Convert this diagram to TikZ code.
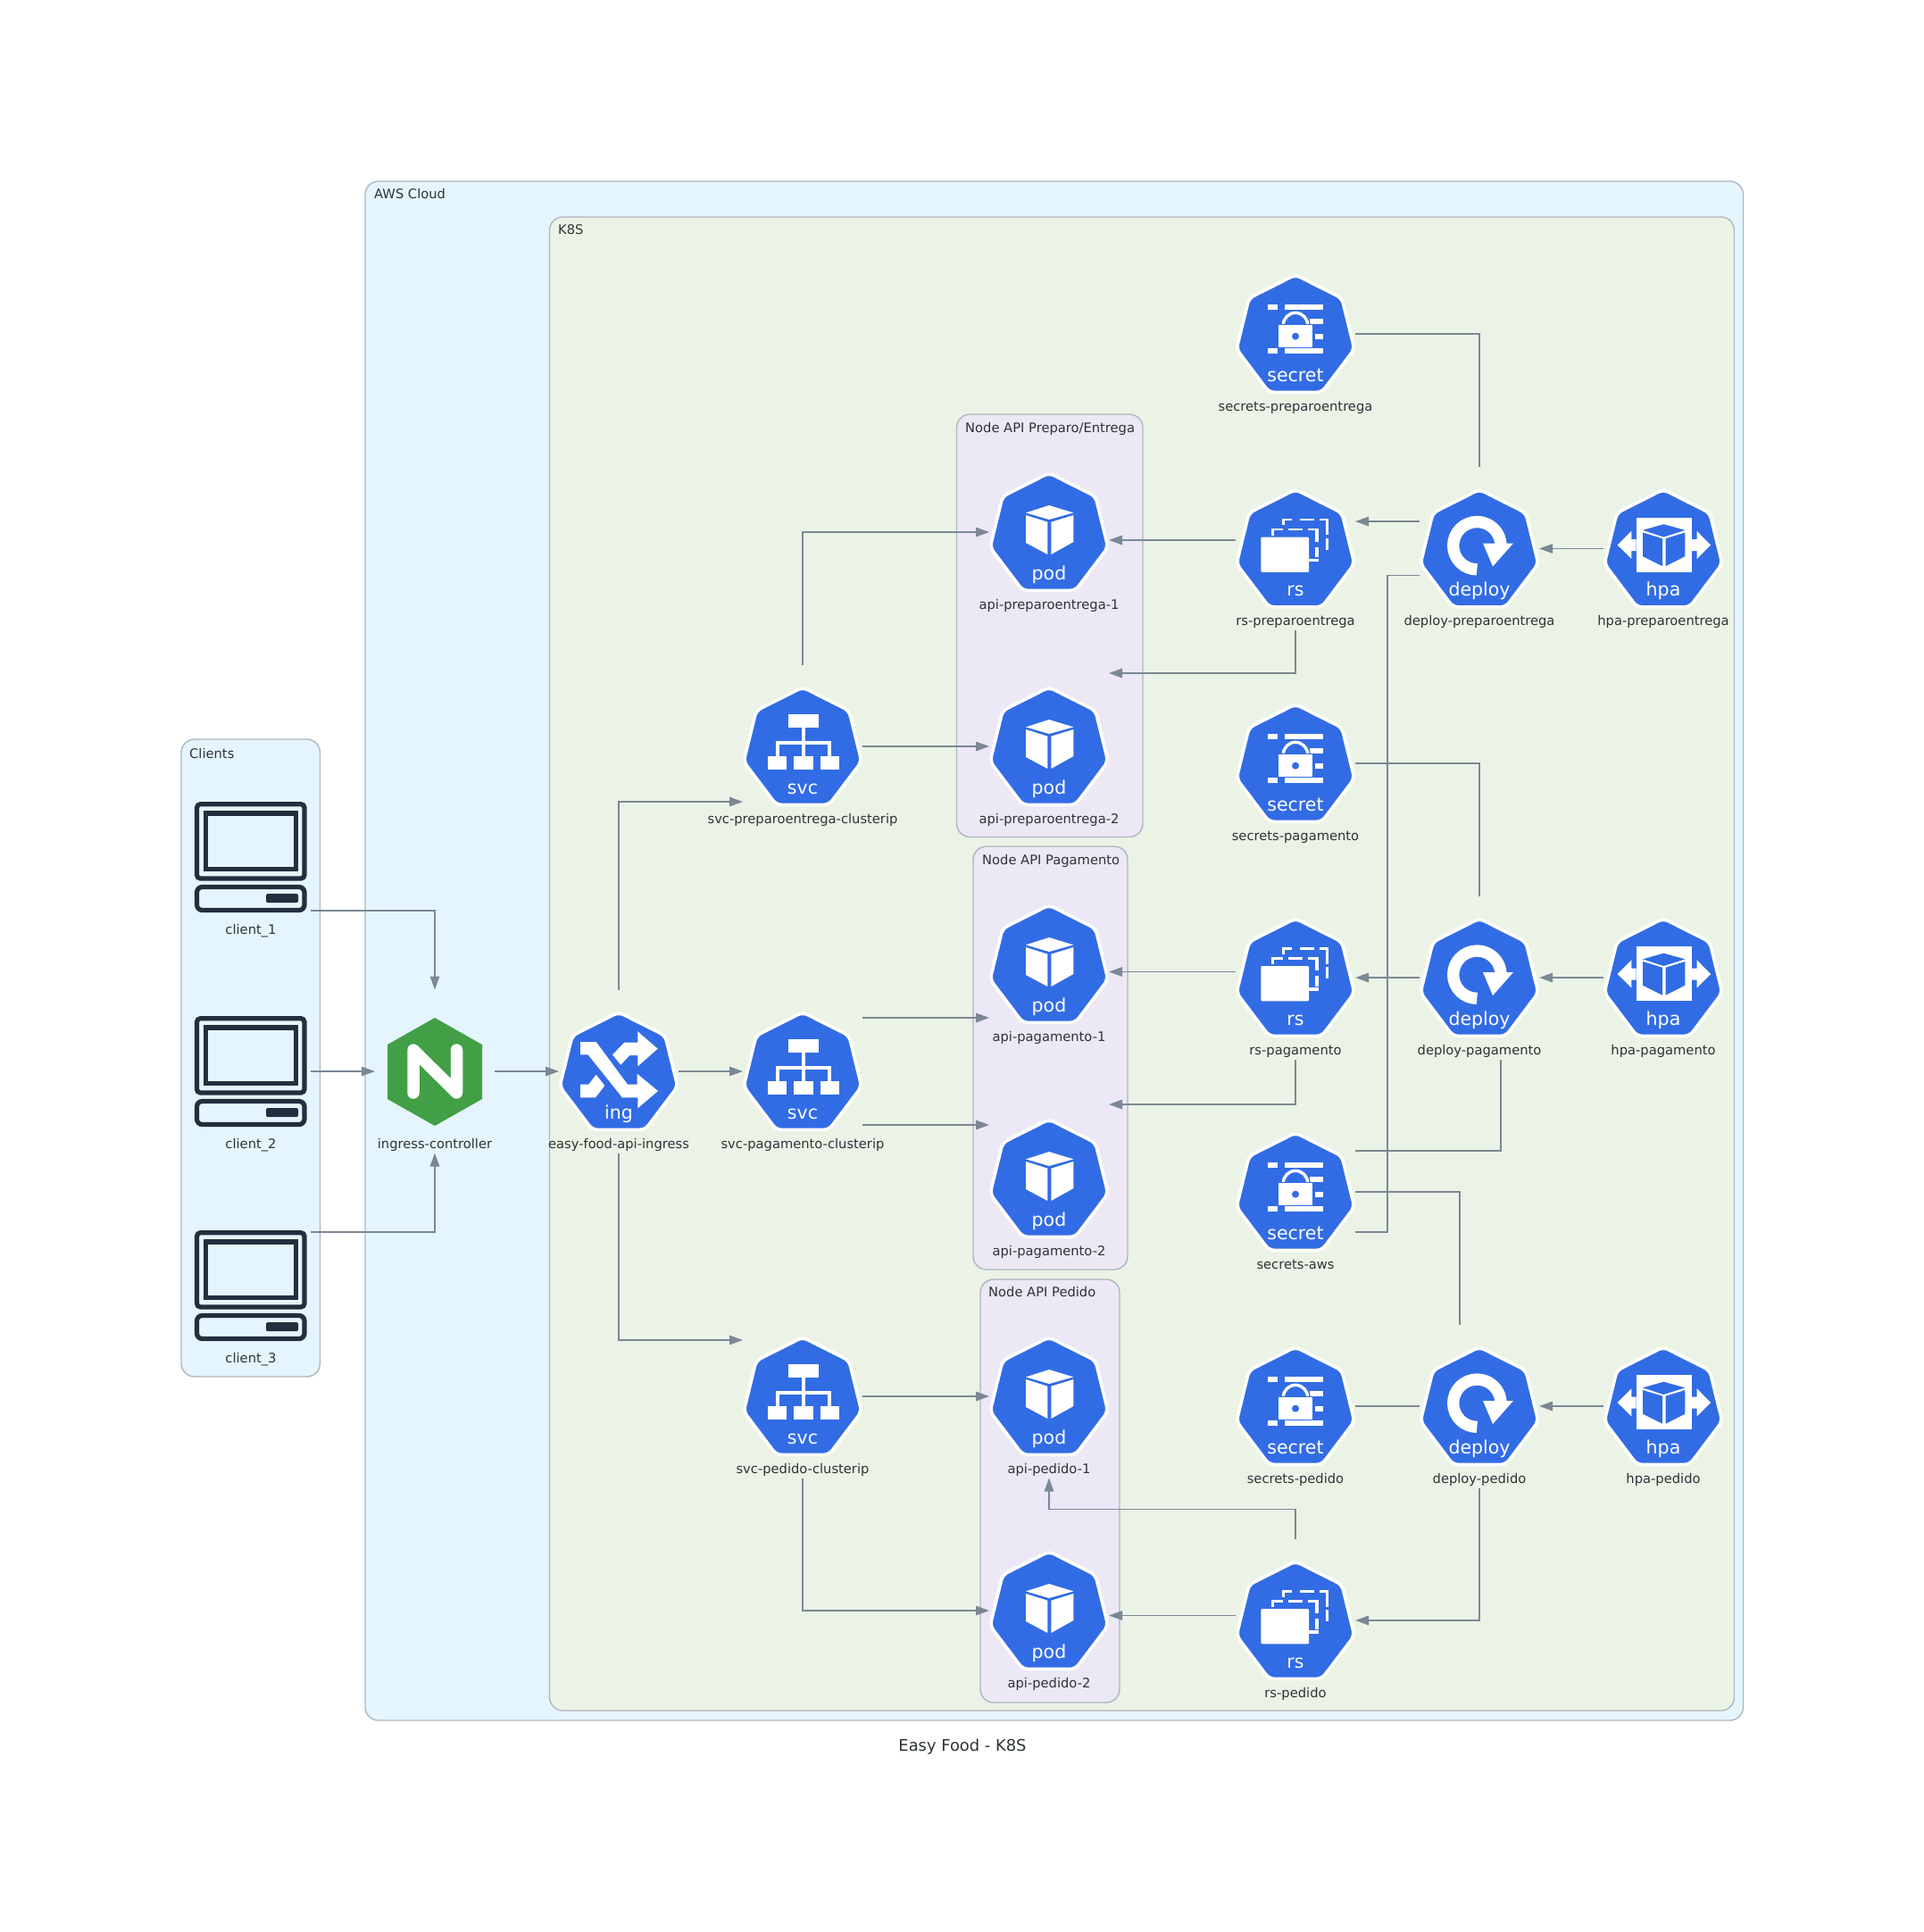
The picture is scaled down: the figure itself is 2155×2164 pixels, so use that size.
\documentclass[tikz,border=0pt]{standalone}
\usepackage{fontspec}
\setmainfont{DejaVu Sans}
\usetikzlibrary{arrows.meta}
\definecolor{k8sblue}{HTML}{326CE5}
\definecolor{ngxgreen}{HTML}{429F46}
\definecolor{edgegrey}{HTML}{7B8894}
\definecolor{bordergrey}{HTML}{AEB6BE}
\definecolor{awsfill}{HTML}{E5F5FD}
\definecolor{k8sfill}{HTML}{EBF3E7}
\definecolor{nodefill}{HTML}{ECE8F6}
\definecolor{textdark}{HTML}{2D3436}
\definecolor{clientdark}{HTML}{232F3E}
\tikzset{
  cluster/.style={draw=bordergrey,line width=1.4pt,rounded corners=15pt},
  clab/.style={font=\fontsize{14.7}{16}\selectfont,text=textdark,anchor=base west,inner sep=0pt},
  cell/.style={draw=none,minimum width=134pt,minimum height=183pt,inner sep=0pt,outer sep=0pt},
  lab/.style={font=\fontsize{14.7}{16}\selectfont,text=textdark,anchor=base,inner sep=0pt},
  hepttext/.style={font=\fontsize{20.5}{22}\selectfont,text=white,anchor=base,inner sep=0pt},
  heptshape/.style={fill=k8sblue,draw=white,line width=3.6pt,rounded corners=6pt,line join=round},
  edge/.style={draw=edgegrey,line width=1.35pt,-{Triangle[length=15pt,width=10.5pt]}},
  link/.style={draw=edgegrey,line width=1.35pt},
  cstroke/.style={draw=clientdark,line width=5.2pt,rounded corners=#1},
  cstroke/.default=4pt
}
\newcommand{\ipod}{\begin{scope}[x=.3333pt,y=-.3333pt,shift={(-213,-212)}]
  \fill[white] (213,122)--(295,147)--(213,170)--(135,147)--cycle;
  \fill[white] (135,155)--(208,178)--(208,287)--(135,248)--cycle;
  \fill[white] (220,178)--(295,155)--(295,245)--(220,287)--cycle;
\end{scope}}
\newcommand{\isvc}{\begin{scope}[x=.3333pt,y=-.3333pt,shift={(-206,-212)}]
  \fill[white] (157,105) rectangle (260,150);
  \fill[white] (203,150) rectangle (215,245);
  \fill[white] (115,195) rectangle (303,207);
  \fill[white] (115,195) rectangle (127,245);
  \fill[white] (291,195) rectangle (303,245);
  \fill[white] (88,245) rectangle (153,290);
  \fill[white] (176,245) rectangle (241,290);
  \fill[white] (265,245) rectangle (330,290);
\end{scope}}
\newcommand{\iing}{\begin{scope}[x=.3333pt,y=-.3333pt,shift={(-213,-214)}]
  \fill[white] (84,115)--(137,115)--(243,258)--(275,258)--(275,222)--(345,280)--(277,338)--(277,302)--(225,302)--(110,158)--(84,158)--cycle;
  \fill[white] (277,117)--(232,117)--(192,158)--(220,192)--(250,160)--(277,160)--(277,197)--(344,138)--(277,80)--cycle;
  \fill[white] (84,258)--(112,258)--(137,225)--(166,262)--(135,302)--(84,302)--cycle;
\end{scope}}
\newcommand{\isecret}{\begin{scope}[x=.3333pt,y=-.3333pt,shift={(-213,-222)}]
  \fill[white] (120,124) rectangle (152,142);
  \fill[white] (176,124) rectangle (305,142);
  \fill[white] (262,172) rectangle (305,188);
  \fill[white] (278,222) rectangle (305,240);
  \fill[white] (120,270) rectangle (152,288);
  \fill[white] (176,270) rectangle (305,288);
  \draw[k8sblue,line width=6pt] (172,192) arc[start angle=180,end angle=360,radius=41];
  \draw[white,line width=3.4pt] (172,192) arc[start angle=180,end angle=360,radius=41];
  \fill[white,draw=k8sblue,line width=1.4pt] (154,190) rectangle (273,268);
  \fill[k8sblue] (213,230) circle[radius=12];
\end{scope}}
\newcommand{\ideploy}{\begin{scope}[x=.3333pt,y=-.3333pt,shift={(-213,-215)}]
  \draw[white,line width=13.3pt] (205,285) arc[start angle=90,end angle=362,radius=80];
  \fill[white] (225,197)--(327,197)--(258,275)--cycle;
\end{scope}}
\newcommand{\ihpa}{\begin{scope}[x=.3333pt,y=-.3333pt,shift={(-207,-214)}]
  \fill[white] (116,110) rectangle (303,292);
  \fill[white] (53,202)--(100,155)--(100,183)--(116,183)--(116,222)--(100,222)--(100,248)--cycle;
  \fill[white] (366,202)--(320,155)--(320,183)--(303,183)--(303,222)--(320,222)--(320,248)--cycle;
  \fill[k8sblue] (208,132)--(280,152)--(208,175)--(138,152)--cycle;
  \fill[k8sblue] (138,160)--(204,180)--(204,273)--(138,240)--cycle;
  \fill[k8sblue] (215,180)--(280,160)--(280,240)--(215,273)--cycle;
\end{scope}}
\newcommand{\irs}{\begin{scope}[x=.357pt,y=-.3333pt,shift={(-200,-251)}]
  \fill[white,rounded corners=1pt] (92,212) rectangle (242,330);
  \fill[white] (158,150) rectangle (190,157);
  \fill[white] (158,150) rectangle (166,172);
  \fill[white] (215,150) rectangle (260,157);
  \fill[white] (275,150) rectangle (303,157);
  \fill[white] (295,150) rectangle (303,205);
  \fill[white] (295,215) rectangle (303,255);
  \fill[white] (125,182) rectangle (160,190);
  \fill[white] (125,182) rectangle (133,207);
  \fill[white] (178,182) rectangle (222,190);
  \fill[white] (240,182) rectangle (272,190);
  \fill[white] (262,182) rectangle (272,228);
  \fill[white] (262,245) rectangle (272,280);
  \fill[white] (242,285) rectangle (272,295);
\end{scope}}
\newcommand{\comp}[6]{%
  \node[cell] (#1) at (#2,#3) {};
  \begin{scope}[shift={(#2,#3)}]
    \path[heptshape] (0,-66.2)--(52,-40)--(66,17)--(29.5,65.4)--(-29.5,65.4)--(-66,17)--(-52,-40)--cycle;
    #4
    \node[hepttext] (#1-t) at (0,53) {#5};
    \node[lab] (#1-l) at (0,86) {#6};
  \end{scope}}
\newcommand{\client}[4]{%
  \node[cell] (#1) at (#2,#3) {};
  \begin{scope}[shift={(#2,#3)}]
    \draw[cstroke] (-60.5,-59.3) rectangle (60,24);
    \draw[cstroke=0pt] (-50.5,-49) rectangle (50.5,13.5);
    \draw[cstroke=6pt] (-60.5,33.5) rectangle (60,59.5);
    \fill[clientdark,rounded corners=1.5pt] (17,41) rectangle (53,51);
    \node[lab] (#1-l) at (0,86) {#4};
  \end{scope}}
\begin{document}
\begin{tikzpicture}[x=1pt,y=-1pt]
\useasboundingbox (0,0) rectangle (2155,2164);
% clusters
\draw[cluster,fill=awsfill] (203,828) rectangle (358.5,1542);
\draw[cluster,fill=awsfill] (409,203) rectangle (1952.5,1927);
\draw[cluster,fill=k8sfill] (615.5,243) rectangle (1942.5,1916);
\draw[cluster,fill=nodefill] (1071.5,464) rectangle (1280,937.5);
\draw[cluster,fill=nodefill] (1090,948) rectangle (1263,1422);
\draw[cluster,fill=nodefill] (1098,1433) rectangle (1254,1907);
\node[clab] (cClients) at (212,849) {Clients};
\node[clab] (cAws) at (419,222) {AWS Cloud};
\node[clab] (cK8s) at (625,262) {K8S};
\node[clab] (cPrep) at (1081,484) {Node API Preparo/Entrega};
\node[clab] (cPag) at (1100,968) {Node API Pagamento};
\node[clab] (cPed) at (1107,1452) {Node API Pedido};
\node[font=\fontsize{17.9}{20}\selectfont,text=textdark,anchor=base,inner sep=0pt] (title) at (1078,1961) {Easy Food - K8S};
% components
\client{cOne}{281}{960}{client\_1}
\client{cTwo}{281}{1200}{client\_2}
\client{cThree}{281}{1440}{client\_3}
\node[cell] (ngx) at (487,1200) {};
\fill[ngxgreen] (487,1140)--(540,1170)--(540,1231)--(487,1261)--(434,1231)--(434,1170)--cycle;
\draw[white,line width=13.5pt,line cap=round,line join=round] (463,1224)--(463,1176)--(511.5,1224)--(511.5,1176);
\node[lab] (ngx-l) at (487,1286) {ingress-controller};
\comp{ing}{693}{1200}{\iing}{ing}{easy-food-api-ingress}
\comp{svcPrep}{899}{836}{\isvc}{svc}{svc-preparoentrega-clusterip}
\comp{svcPag}{899}{1200}{\isvc}{svc}{svc-pagamento-clusterip}
\comp{svcPed}{899}{1564}{\isvc}{svc}{svc-pedido-clusterip}
\comp{podPrepA}{1175}{596}{\ipod}{pod}{api-preparoentrega-1}
\comp{podPrepB}{1175}{836}{\ipod}{pod}{api-preparoentrega-2}
\comp{podPagA}{1175}{1080}{\ipod}{pod}{api-pagamento-1}
\comp{podPagB}{1175}{1320}{\ipod}{pod}{api-pagamento-2}
\comp{podPedA}{1175}{1564}{\ipod}{pod}{api-pedido-1}
\comp{podPedB}{1175}{1804}{\ipod}{pod}{api-pedido-2}
\comp{secPrep}{1451}{374}{\isecret}{secret}{secrets-preparoentrega}
\comp{secPag}{1451}{855}{\isecret}{secret}{secrets-pagamento}
\comp{secAws}{1451}{1335}{\isecret}{secret}{secrets-aws}
\comp{secPed}{1451}{1575}{\isecret}{secret}{secrets-pedido}
\comp{rsPrep}{1451}{614.5}{\irs}{rs}{rs-preparoentrega}
\comp{rsPag}{1451}{1095}{\irs}{rs}{rs-pagamento}
\comp{rsPed}{1451}{1815}{\irs}{rs}{rs-pedido}
\comp{depPrep}{1657}{614.5}{\ideploy}{deploy}{deploy-preparoentrega}
\comp{depPag}{1657}{1095}{\ideploy}{deploy}{deploy-pagamento}
\comp{depPed}{1657}{1575}{\ideploy}{deploy}{deploy-pedido}
\comp{hpaPrep}{1863}{614.5}{\ihpa}{hpa}{hpa-preparoentrega}
\comp{hpaPag}{1863}{1095}{\ihpa}{hpa}{hpa-pagamento}
\comp{hpaPed}{1863}{1575}{\ihpa}{hpa}{hpa-pedido}
% connectors
\draw[edge] ([yshift=-60pt]cOne.east) -| (ngx.north);
\draw[edge] (cTwo.east) -- (ngx.west);
\draw[edge] ([yshift=60pt]cThree.east) -| (ngx.south);
\draw[edge] (ngx.east) -- (ing.west);
\draw[edge] (ing.north) |- ([yshift=-62pt]svcPrep.west);
\draw[edge] (ing.east) -- (svcPag.west);
\draw[edge] (ing.south) |- ([yshift=63pt]svcPed.west);
\draw[edge] (svcPrep.north) |- (podPrepA.west);
\draw[edge] (svcPrep.east) -- (podPrepB.west);
\draw[edge] ([yshift=60pt]svcPag.east) -- ([yshift=60pt]svcPag.east -| podPagA.west);
\draw[edge] ([yshift=-60pt]svcPag.east) -- ([yshift=-60pt]svcPag.east -| podPagB.west);
\draw[edge] (svcPed.east) -- (podPedA.west);
\draw[edge] (svcPed.south) |- (podPedB.west);
\draw[edge] ([yshift=9.5pt]rsPrep.west) -- ([yshift=9.5pt]rsPrep.west -| podPrepA.east);
\draw[edge] (rsPrep.south) |- ([yshift=82pt]podPrepB.east);
\draw[edge] ([yshift=6.5pt]rsPag.west) -- ([yshift=6.5pt]rsPag.west -| podPagA.east);
\draw[edge] (rsPag.south) |- ([yshift=83pt]podPagB.east);
\draw[edge] (rsPed.north) -- ++(0,-33) -| (podPedA.south);
\draw[edge] ([yshift=5.5pt]rsPed.west) -- ([yshift=5.5pt]rsPed.west -| podPedB.east);
\draw[edge] ([yshift=30.5pt]depPrep.west) -- ([yshift=30.5pt]depPrep.west -| rsPrep.east);
\draw[edge] (depPag.west) -- (rsPag.east);
\draw[edge] (depPed.south) |- (rsPed.east);
\draw[edge] (hpaPrep.west) -- (depPrep.east);
\draw[edge] (hpaPag.west) -- (depPag.east);
\draw[edge] (hpaPed.west) -- (depPed.east);
\draw[link] (secPrep.east) -| (depPrep.north);
\draw[link] (secPag.east) -| (depPag.north);
\draw[link] (secPed.east) -- (depPed.west);
\draw[link] ([yshift=-30pt]depPrep.west) -- ++(-36,0) |- ([yshift=-45pt]secAws.east);
\draw[link] ([yshift=46pt]secAws.east) -| ([xshift=24pt]depPag.south);
\draw[link] (secAws.east) -| ([xshift=-22pt]depPed.north);
\end{tikzpicture}
\end{document}
